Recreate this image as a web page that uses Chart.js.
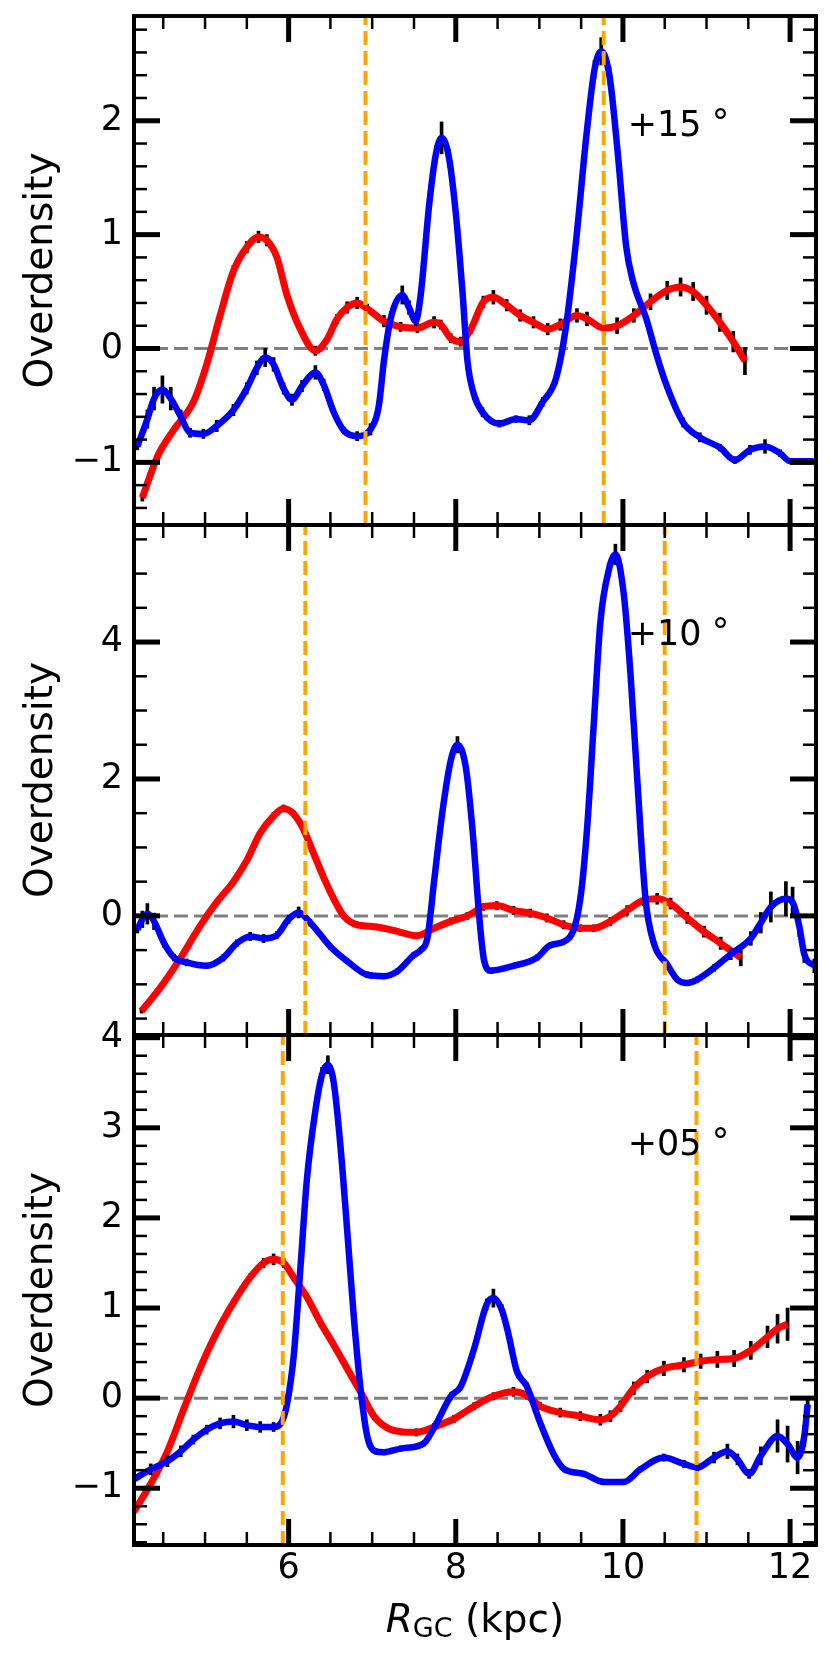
<!DOCTYPE html>
<html><head><meta charset="utf-8">
<script src="https://cdn.jsdelivr.net/npm/chart.js@4.4.1/dist/chart.umd.min.js"></script>
<style>
html,body{margin:0;padding:0;background:#fff;}
#wrap{position:relative;width:831px;height:1661px;overflow:hidden;background:#fff;}
canvas{position:absolute;left:0;}
</style></head><body><div id="wrap">
<canvas id="c1" width="831" height="540" style="top:0px;width:831px;height:540px"></canvas>
<canvas id="c2" width="831" height="540" style="top:510px;width:831px;height:540px"></canvas>
<canvas id="c3" width="831" height="661" style="top:1000px;width:831px;height:661px"></canvas>
</div>
<script>
// ---------- tick labels ----------
const xTicks = [6, 8, 10, 12];
const p1YTicks = [-1, 0, 1, 2];
const p2YTicks = [0, 2, 4];
const p3YTicks = [-1, 0, 1, 2, 3, 4];
const panelLabels = ['+15', '+10', '+05'];
const xTitle = ['R', 'GC', ' (kpc)'];
const yTitle = 'Overdensity';

// ---------- vertical marker lines (kpc) ----------
const p1VLines = [6.92, 9.77];
const p2VLines = [6.20, 10.50];
const p3VLines = [5.93, 10.88];

// ---------- panel +15 ----------
const p1RedX = [4.25,4.43,4.63,4.86,5.02,5.18,5.34,5.5,5.64,5.74,5.86,5.98,6.14,6.32,6.46,6.58,6.7,6.82,6.94,7.14,7.34,7.54,7.74,7.82,7.94,8.06,8.18,8.33,8.45,8.61,8.77,8.93,9.1,9.25,9.45,9.57,9.77,9.93,10.13,10.33,10.53,10.69,10.84,11.0,11.16,11.32,11.46];
const p1RedY = [-1.31,-0.95,-0.71,-0.47,-0.14,0.29,0.68,0.89,0.98,0.95,0.80,0.47,0.17,-0.02,0.08,0.26,0.36,0.40,0.35,0.24,0.19,0.18,0.23,0.21,0.09,0.06,0.17,0.41,0.45,0.38,0.29,0.23,0.17,0.21,0.29,0.26,0.18,0.20,0.29,0.41,0.51,0.54,0.50,0.38,0.23,0.06,-0.11];
const p1RedErr = [0.03,0.03,0.03,0.03,0.03,0.04,0.05,0.05,0.05,0.05,0.04,0.04,0.03,0.04,0.03,0.04,0.05,0.05,0.04,0.05,0.04,0.04,0.05,0.04,0.04,0.04,0.04,0.05,0.06,0.05,0.05,0.05,0.05,0.05,0.06,0.06,0.07,0.07,0.06,0.07,0.08,0.08,0.08,0.08,0.08,0.09,0.12];
const p1BlueX = [4.19,4.31,4.39,4.49,4.59,4.71,4.82,4.98,5.14,5.34,5.5,5.62,5.72,5.82,5.94,6.04,6.16,6.32,6.42,6.54,6.66,6.82,6.98,7.08,7.14,7.22,7.36,7.44,7.52,7.58,7.68,7.76,7.83,7.92,8.0,8.08,8.14,8.22,8.32,8.52,8.72,8.88,9.04,9.2,9.32,9.44,9.56,9.66,9.74,9.84,9.94,10.04,10.12,10.28,10.4,10.52,10.72,10.92,11.16,11.34,11.52,11.7,11.88,12.0,12.28];
const p1BlueY = [-0.86,-0.62,-0.44,-0.36,-0.44,-0.60,-0.74,-0.75,-0.68,-0.54,-0.35,-0.17,-0.08,-0.14,-0.35,-0.45,-0.33,-0.21,-0.32,-0.56,-0.72,-0.77,-0.71,-0.50,-0.11,0.26,0.47,0.36,0.24,0.47,1.25,1.70,1.85,1.67,1.19,0.50,-0.11,-0.41,-0.56,-0.66,-0.62,-0.63,-0.47,-0.26,0.20,0.95,1.85,2.45,2.61,2.39,1.70,0.89,0.59,0.26,-0.05,-0.32,-0.65,-0.78,-0.87,-0.98,-0.89,-0.86,-0.92,-0.99,-0.99];
const p1BlueErr = [0.03,0.08,0.10,0.12,0.10,0.06,0.04,0.04,0.05,0.05,0.05,0.06,0.08,0.06,0.05,0.05,0.05,0.06,0.05,0.03,0.03,0.04,0.05,0.04,0.04,0.04,0.08,0.06,0.04,0.04,0.05,0.08,0.14,0.08,0.05,0.04,0.04,0.04,0.04,0.03,0.03,0.04,0.04,0.05,0.04,0.04,0.05,0.08,0.12,0.08,0.05,0.04,0.04,0.03,0.03,0.03,0.04,0.04,0.03,0.03,0.04,0.06,0.03,0.02,0.02];

// ---------- panel +10 ----------
const p2RedX = [4.24,4.47,4.71,4.94,5.14,5.34,5.5,5.66,5.82,5.94,6.06,6.18,6.3,6.42,6.54,6.66,6.82,6.98,7.14,7.34,7.54,7.74,7.94,8.14,8.33,8.49,8.69,8.89,9.09,9.29,9.49,9.65,9.85,10.05,10.25,10.41,10.57,10.77,10.97,11.17,11.41];
const p2RedY = [-1.39,-1.04,-0.61,-0.15,0.20,0.50,0.81,1.21,1.46,1.57,1.49,1.26,0.91,0.56,0.25,0.00,-0.13,-0.15,-0.18,-0.24,-0.29,-0.18,-0.08,0.00,0.13,0.15,0.08,0.04,-0.03,-0.13,-0.18,-0.18,-0.08,0.08,0.23,0.25,0.18,-0.03,-0.23,-0.40,-0.61];
const p2RedErr = [0.03,0.03,0.03,0.03,0.04,0.04,0.04,0.05,0.05,0.05,0.05,0.05,0.05,0.04,0.04,0.04,0.04,0.04,0.04,0.04,0.04,0.04,0.05,0.05,0.05,0.06,0.06,0.06,0.06,0.06,0.05,0.05,0.06,0.07,0.08,0.08,0.08,0.08,0.08,0.09,0.12];
const p2BlueX = [4.19,4.25,4.31,4.39,4.51,4.63,4.78,5.02,5.22,5.38,5.54,5.7,5.86,6.0,6.12,6.26,6.5,6.7,6.94,7.14,7.3,7.49,7.58,7.66,7.74,7.84,7.94,8.02,8.12,8.2,8.28,8.34,8.42,8.69,8.97,9.13,9.37,9.49,9.57,9.65,9.73,9.83,9.91,10.01,10.09,10.17,10.27,10.37,10.53,10.65,10.77,10.89,11.09,11.29,11.53,11.65,11.77,11.95,12.03,12.11,12.17,12.29];
const p2BlueY = [-0.20,-0.05,0.03,-0.08,-0.40,-0.61,-0.68,-0.73,-0.61,-0.40,-0.30,-0.33,-0.28,-0.05,0.05,-0.10,-0.45,-0.66,-0.86,-0.88,-0.81,-0.58,-0.50,-0.33,0.50,1.52,2.27,2.50,2.17,1.26,0.00,-0.66,-0.80,-0.73,-0.61,-0.43,-0.30,0.25,1.26,2.78,4.29,5.05,5.28,4.70,3.54,2.02,0.25,-0.40,-0.71,-0.93,-0.98,-0.93,-0.76,-0.56,-0.33,-0.10,0.13,0.25,0.20,-0.15,-0.56,-0.73];
const p2BlueErr = [0.05,0.12,0.15,0.12,0.06,0.05,0.05,0.04,0.05,0.05,0.06,0.06,0.05,0.06,0.08,0.05,0.04,0.04,0.04,0.04,0.04,0.04,0.04,0.04,0.04,0.05,0.08,0.12,0.08,0.05,0.04,0.04,0.04,0.04,0.04,0.04,0.04,0.04,0.05,0.06,0.08,0.10,0.15,0.10,0.06,0.05,0.04,0.04,0.04,0.04,0.04,0.04,0.05,0.08,0.10,0.15,0.22,0.25,0.22,0.15,0.12,0.10];

// ---------- panel +05 ----------
const p3RedX = [4.15,4.35,4.55,4.75,4.94,5.14,5.34,5.54,5.7,5.82,5.94,6.06,6.22,6.38,6.54,6.7,6.86,7.02,7.18,7.33,7.53,7.74,7.98,8.22,8.45,8.69,8.85,9.01,9.25,9.49,9.73,9.85,9.97,10.13,10.29,10.49,10.73,10.93,11.13,11.33,11.53,11.73,11.85,11.97];
const p3RedY = [-1.26,-0.95,-0.59,-0.11,0.33,0.73,1.06,1.34,1.50,1.54,1.50,1.34,1.12,0.84,0.59,0.33,0.07,-0.20,-0.33,-0.37,-0.38,-0.32,-0.23,-0.09,0.02,0.07,0.03,-0.09,-0.16,-0.20,-0.24,-0.20,-0.09,0.11,0.24,0.33,0.37,0.41,0.43,0.44,0.53,0.68,0.77,0.82];
const p3RedErr = [0.03,0.03,0.03,0.03,0.03,0.03,0.04,0.04,0.05,0.06,0.05,0.04,0.04,0.04,0.04,0.04,0.04,0.04,0.03,0.03,0.04,0.04,0.04,0.04,0.04,0.05,0.04,0.04,0.05,0.05,0.06,0.06,0.06,0.07,0.07,0.08,0.08,0.08,0.09,0.09,0.10,0.12,0.16,0.18];
const p3BlueX = [4.15,4.35,4.55,4.71,4.86,5.02,5.18,5.34,5.5,5.66,5.82,5.92,5.98,6.06,6.14,6.22,6.32,6.4,6.47,6.54,6.62,6.7,6.78,6.86,6.94,7.04,7.14,7.34,7.62,7.74,7.94,8.06,8.22,8.37,8.45,8.55,8.62,8.73,8.85,9.0,9.17,9.3,9.53,9.77,10.01,10.21,10.49,10.73,10.89,11.09,11.25,11.37,11.51,11.65,11.85,11.97,12.09,12.17,12.21];
const p3BlueY = [-0.90,-0.79,-0.70,-0.59,-0.46,-0.35,-0.28,-0.26,-0.30,-0.32,-0.32,-0.26,-0.07,0.46,1.43,2.44,3.19,3.59,3.70,3.50,2.80,1.87,0.90,0.11,-0.42,-0.59,-0.60,-0.56,-0.50,-0.33,0.02,0.13,0.55,1.04,1.11,0.98,0.75,0.30,0.13,-0.25,-0.62,-0.79,-0.84,-0.93,-0.93,-0.79,-0.66,-0.73,-0.77,-0.66,-0.59,-0.68,-0.84,-0.64,-0.42,-0.51,-0.66,-0.42,-0.07];
const p3BlueErr = [0.04,0.06,0.06,0.06,0.05,0.05,0.06,0.07,0.06,0.06,0.05,0.04,0.04,0.04,0.04,0.05,0.06,0.08,0.10,0.08,0.05,0.04,0.04,0.04,0.03,0.03,0.03,0.03,0.03,0.03,0.04,0.04,0.05,0.06,0.10,0.06,0.05,0.04,0.04,0.03,0.03,0.03,0.03,0.03,0.03,0.03,0.04,0.04,0.04,0.06,0.08,0.06,0.05,0.10,0.18,0.20,0.18,0.12,0.08];

// ---------- rendering ----------
const FONT = "'DejaVu Sans', 'Liberation Sans', sans-serif";
const X_MIN = 4.15, X_MAX = 12.31;
const RED = '#ff0000', BLUE = '#0000ff', ORANGE = '#ffa500', GRAY = '#808080';

const fmt = v => (v < 0 ? '\u2212' + Math.abs(v) : String(v));
const pts = (xs, ys) => xs.map((x, i) => ({x, y: ys[i]}));
const errs = (xs, ys, es) => xs.map((x, i) => ({x, y: [ys[i] - es[i], ys[i] + es[i]]}));

const decor = {
  id: 'decor',
  afterDraw(chart, args, o) {
    const {ctx, chartArea: a} = chart;
    const xs = chart.scales.x, ys = chart.scales.y;
    ctx.save();
    ctx.strokeStyle = '#000';
    ctx.lineCap = 'butt';
    const seg = (x1, y1, x2, y2) => { ctx.beginPath(); ctx.moveTo(x1, y1); ctx.lineTo(x2, y2); ctx.stroke(); };
    const near = (arr, v) => arr.some(t => Math.abs(t - v) < 1e-6);
    // x minor
    ctx.lineWidth = 2.5;
    for (let k = Math.ceil(xs.min / 0.5); k * 0.5 <= xs.max + 1e-9; k++) {
      const v = k * 0.5;
      if (near(xTicks, v)) continue;
      const p = xs.getPixelForValue(v);
      seg(p, a.bottom, p, a.bottom - 13); seg(p, a.top, p, a.top + 13);
    }
    // y minor
    for (let k = Math.ceil(ys.min / o.yMinor - 1e-9); k * o.yMinor <= ys.max + 1e-9; k++) {
      const v = k * o.yMinor;
      if (near(o.yTicks, v)) continue;
      const p = ys.getPixelForValue(v);
      seg(a.left, p, a.left + 13, p); seg(a.right, p, a.right - 13, p);
    }
    // majors
    ctx.lineWidth = 5;
    xTicks.forEach(v => {
      const p = xs.getPixelForValue(v);
      seg(p, a.bottom, p, a.bottom - 26); seg(p, a.top, p, a.top + 26);
    });
    o.yTicks.forEach(v => {
      const p = ys.getPixelForValue(v);
      seg(a.left, p, a.left + 26, p); seg(a.right, p, a.right - 26, p);
    });
    // frame
    ctx.lineWidth = 4;
    ctx.strokeRect(a.left, a.top, a.right - a.left, a.bottom - a.top);
    // panel label
    ctx.fillStyle = '#000';
    ctx.textAlign = 'left'; ctx.textBaseline = 'alphabetic';
    ctx.font = '35px ' + FONT;
    const tx = a.left + 0.724 * (a.right - a.left);
    const ty = a.top + 0.236 * (a.bottom - a.top);
    ctx.fillText(o.label, tx, ty);
    const w = ctx.measureText(o.label).width;
    ctx.fillText('\u00b0', tx + w + 10, ty - 2);
    // y title
    ctx.save();
    ctx.font = '39px ' + FONT;
    ctx.translate(52, (a.top + a.bottom) / 2);
    ctx.rotate(-Math.PI / 2);
    ctx.textAlign = 'center';
    ctx.fillText(yTitle, 0, 0);
    ctx.restore();
    // x title
    if (o.bottom) {
      const fR = 'italic 39px ' + FONT, fS = '27px ' + FONT, fN = '39px ' + FONT;
      ctx.font = fR; const w1 = ctx.measureText(xTitle[0]).width;
      ctx.font = fS; const w2 = ctx.measureText(xTitle[1]).width;
      ctx.font = fN; const w3 = ctx.measureText(xTitle[2]).width;
      let x0 = (a.left + a.right) / 2 - (w1 + w2 + w3) / 2;
      const base = a.bottom + 87;
      ctx.font = fR; ctx.fillText(xTitle[0], x0, base); x0 += w1;
      ctx.font = fS; ctx.fillText(xTitle[1], x0, base + 5); x0 += w2;
      ctx.font = fN; ctx.fillText(xTitle[2], x0, base);
    }
    ctx.restore();
  }
};

function panel(id, p) {
  const datasets = [
    {type: 'line', data: [{x: X_MIN, y: 0}, {x: X_MAX, y: 0}], borderColor: GRAY, borderWidth: 3, borderDash: [14, 6], pointRadius: 0, order: 10},
    {type: 'bar', data: errs(p.rx, p.ry, p.re), backgroundColor: '#000', barThickness: 3, grouped: false, order: 8},
    {type: 'line', data: pts(p.rx, p.ry), borderColor: RED, borderWidth: 7, pointRadius: 0, cubicInterpolationMode: 'monotone', borderJoinStyle: 'round', order: 7},
    {type: 'bar', data: errs(p.bx, p.by, p.be), backgroundColor: '#000', barThickness: 3, grouped: false, order: 6},
    {type: 'line', data: pts(p.bx, p.by), borderColor: BLUE, borderWidth: 6.5, pointRadius: 0, cubicInterpolationMode: 'monotone', borderJoinStyle: 'round', order: 5},
  ];
  p.vl.forEach(v => datasets.push({type: 'line', data: [{x: v, y: p.ymin}, {x: v, y: p.ymax}], borderColor: ORANGE, borderWidth: 4, borderDash: [14, 6], pointRadius: 0, order: 1}));
  return new Chart(document.getElementById(id), {
    type: 'line',
    data: {datasets},
    options: {
      responsive: false, animation: false, devicePixelRatio: 1,
      layout: {padding: {left: 0, right: 15, top: p.padTop, bottom: p.padBottom}},
      plugins: {legend: {display: false}, tooltip: {enabled: false}, decor: {yTicks: p.yTicks, yMinor: p.yMinor, label: p.label, bottom: p.bottom}},
      scales: {
        x: {type: 'linear', min: X_MIN, max: X_MAX, offset: false, display: p.bottom, position: 'bottom',
          afterBuildTicks: s => { s.ticks = xTicks.map(v => ({value: v})); },
          afterFit: s => { s.height = p.bottom ? 116 : 0; s.paddingLeft = 0; s.paddingRight = 0; },
          grid: {display: false, drawTicks: false}, border: {display: false},
          ticks: {font: {family: FONT, size: 35}, color: '#000', padding: 3, maxRotation: 0, autoSkip: false, callback: v => fmt(v)}},
        y: {type: 'linear', min: p.ymin, max: p.ymax, position: 'left',
          afterBuildTicks: s => { s.ticks = p.yTicks.map(v => ({value: v})); },
          afterFit: s => { s.width = 134; s.paddingTop = 0; s.paddingBottom = 0; },
          grid: {display: false, drawTicks: false}, border: {display: false},
          ticks: {font: {family: FONT, size: 35}, color: '#000', padding: 11, callback: v => fmt(v)}}
      }
    },
    plugins: [decor]
  });
}

panel('c1', {rx: p1RedX, ry: p1RedY, re: p1RedErr, bx: p1BlueX, by: p1BlueY, be: p1BlueErr, vl: p1VLines,
  ymin: -1.55, ymax: 2.92, yTicks: p1YTicks, yMinor: 0.2, label: panelLabels[0], bottom: false, padTop: 16, padBottom: 15});
panel('c2', {rx: p2RedX, ry: p2RedY, re: p2RedErr, bx: p2BlueX, by: p2BlueY, be: p2BlueErr, vl: p2VLines,
  ymin: -1.74, ymax: 5.71, yTicks: p2YTicks, yMinor: 0.5, label: panelLabels[1], bottom: false, padTop: 15, padBottom: 15});
panel('c3', {rx: p3RedX, ry: p3RedY, re: p3RedErr, bx: p3BlueX, by: p3BlueY, be: p3BlueErr, vl: p3VLines,
  ymin: -1.63, ymax: 4.03, yTicks: p3YTicks, yMinor: 0.2, label: panelLabels[2], bottom: true, padTop: 35, padBottom: 0});
</script>
</body></html>
